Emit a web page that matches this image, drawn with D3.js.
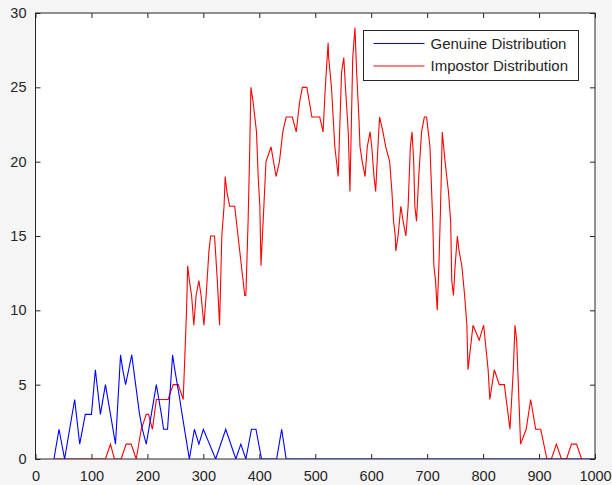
<!DOCTYPE html>
<html>
<head>
<meta charset="utf-8">
<script src="https://cdn.jsdelivr.net/npm/d3@7"></script>
<style>
    body { margin: 0; background: #f5f5f5; }
    svg { display: block; font-family: "Liberation Sans", Arial, sans-serif; }
</style>
</head>
<body>
<div id="chart"></div>
<script>
// Genuine scores (x) and counts (y)
const genuineX = [33, 42, 52, 70, 79, 89, 100, 107, 116, 125, 134, 143, 152, 156, 161, 172, 186, 191, 198,
    207, 216, 225, 229, 236, 245, 249, 258, 262, 275, 284, 292, 300, 322, 340, 358, 367, 376, 386, 394,
    404, 431, 440, 448, 1000];
const genuineY = [0, 2, 0, 4, 1, 3, 3, 6, 3, 5, 3, 1, 7, 6, 5, 7, 3, 2, 1,
    3, 5, 3, 2, 2, 7, 6, 4, 3, 0, 2, 1, 2, 0, 2, 0, 1, 0, 2, 2,
    0, 0, 2, 0, 0];

// Impostor scores (x) and counts (y)
const impostorX = [33, 125, 134, 141, 153, 162, 171, 180, 189, 198, 202, 209, 216, 237, 246, 255, 264,
    267, 270, 272, 275, 279, 283, 287, 292, 296, 301, 305, 310, 313, 320, 325, 329, 333, 337, 339, 342,
    347, 356, 362, 368, 374, 376, 380, 383, 385, 389, 395, 398, 401, 403, 412, 421, 430, 436, 442, 448,
    459, 466, 472, 477, 485, 494, 502, 508, 514, 518, 523, 524, 529, 535, 541, 547, 551, 554, 559, 562,
    567, 571, 574, 578, 580, 584, 589, 593, 598, 601, 605, 608, 612, 615, 621, 626, 633, 637, 640, 643,
    644, 648, 653, 657, 662, 666, 670, 673, 676, 678, 681, 685, 690, 695, 699, 702, 705, 710, 712, 715,
    718, 721, 724, 727, 732, 738, 742, 744, 747, 750, 754, 757, 762, 767, 771, 773, 779, 782, 793, 801,
    809, 812, 820, 829, 838, 848, 854, 857, 860, 865, 867, 877, 885, 894, 903, 914, 922, 931, 940, 949,
    958, 967, 976];
const impostorY = [0, 0, 1, 0, 0, 1, 1, 0, 2, 3, 3, 2, 4, 4, 5, 5, 4,
    7, 10, 13, 12, 11, 9, 11, 12, 11, 9, 11, 14, 15, 15, 12, 9, 15, 17, 19, 18,
    17, 17, 15, 13, 11, 11, 16, 21, 25, 24, 22, 19, 17, 13, 20, 21, 19, 20, 22, 23,
    23, 22, 24, 25, 25, 23, 23, 23, 22, 25, 28, 27, 25, 21, 19, 26, 27, 25, 22, 18,
    27, 29, 26, 23, 21, 20, 19, 21, 22, 21, 19, 18, 21, 23, 22, 21, 20, 18, 16, 15,
    14, 15, 17, 16, 15, 17, 21, 22, 20, 17, 16, 19, 22, 23, 23, 22, 21, 16, 13, 12,
    10, 13, 17, 22, 20, 18, 16, 12, 11, 13, 15, 14, 13, 11, 9, 6, 8, 9, 8, 9,
    6, 4, 6, 5, 5, 2, 6, 9, 8, 3, 1, 2, 4, 2, 2, 0, 0, 1, 0, 0,
    1, 1, 0];

const xTicks = [0, 100, 200, 300, 400, 500, 600, 700, 800, 900, 1000];
const yTicks = [0, 5, 10, 15, 20, 25, 30];
const seriesNames = ["Genuine Distribution", "Impostor Distribution"];
const seriesColors = ["#0000ff", "#ff0000"];

const W = 612, H = 485;
const margin = {top: 13, right: 17, bottom: 26, left: 35.5};
const width = W - margin.left - margin.right;
const height = H - margin.top - margin.bottom;
const axisColor = "#262626";

const svg = d3.select("#chart")
    .append("svg")
    .attr("width", W)
    .attr("height", H);

svg.append("rect")
    .attr("width", W).attr("height", H)
    .attr("fill", "#f5f5f5");

const g = svg.append("g")
    .attr("transform", "translate(" + margin.left + "," + margin.top + ")");

g.append("rect")
    .attr("width", width).attr("height", height)
    .attr("fill", "#ffffff");

let x = d3.scaleLinear().domain([0, 1000]).range([0, width]);
let y = d3.scaleLinear().domain([0, 30]).range([height, 0]);

// Clip path
g.append("defs").append("clipPath")
    .attr("id", "clip")
    .append("rect")
    .attr("width", width)
    .attr("height", height);

let lineGenerator = d3.line()
    .x(function (d) { return x(d[0]); })
    .y(function (d) { return y(d[1]); });

let lines = g.append("g").attr("clip-path", "url(#clip)");
let series = [
    d3.zip(genuineX, genuineY),
    d3.zip(impostorX, impostorY)
];
// draw red first so blue baseline sits on top like the reference
[1, 0].forEach(function (idx) {
    lines.append("path")
        .datum(series[idx])
        .attr("fill", "none")
        .attr("stroke", seriesColors[idx])
        .attr("stroke-width", 1.1)
        .attr("stroke-linejoin", "miter")
        .attr("d", lineGenerator);
});

// Axes (MATLAB style: inward ticks, box on)
function styleAxis(sel, showText) {
    sel.select(".domain").remove();
    sel.selectAll(".tick line").attr("stroke", axisColor);
    sel.selectAll(".tick text")
        .attr("fill", axisColor)
        .attr("font-size", 14.5)
        .style("display", showText ? null : "none");
}

let fmt = d3.format("d");

g.append("g")
    .attr("transform", "translate(0," + height + ")")
    .call(d3.axisBottom(x).tickValues(xTicks).tickFormat(fmt).tickSizeInner(-5).tickSizeOuter(0).tickPadding(12))
    .call(styleAxis, true);

g.append("g")
    .call(d3.axisTop(x).tickValues(xTicks).tickSizeInner(-5).tickSizeOuter(0))
    .call(styleAxis, false);

g.append("g")
    .call(d3.axisLeft(y).tickValues(yTicks).tickFormat(fmt).tickSizeInner(-5).tickSizeOuter(0).tickPadding(9))
    .call(styleAxis, true);

g.append("g")
    .attr("transform", "translate(" + width + ",0)")
    .call(d3.axisRight(y).tickValues(yTicks).tickSizeInner(-5).tickSizeOuter(0))
    .call(styleAxis, false);

g.append("rect")
    .attr("width", width).attr("height", height)
    .attr("fill", "none")
    .attr("stroke", axisColor)
    .attr("stroke-width", 1);

// Legend
let legend = svg.append("g").attr("transform", "translate(363.5,30.5)");
legend.append("rect")
    .attr("width", 215).attr("height", 50)
    .attr("fill", "#ffffff")
    .attr("stroke", axisColor)
    .attr("stroke-width", 1);

seriesNames.forEach(function (name, i) {
    let row = legend.append("g").attr("transform", "translate(0," + (13 + i * 22.5) + ")");
    row.append("line")
        .attr("x1", 10).attr("x2", 61)
        .attr("stroke", seriesColors[i])
        .attr("stroke-width", 1.1);
    row.append("text")
        .attr("x", 67)
        .attr("dy", "0.35em")
        .attr("font-size", 15)
        .attr("fill", axisColor)
        .text(name);
});
</script>
</body>
</html>
